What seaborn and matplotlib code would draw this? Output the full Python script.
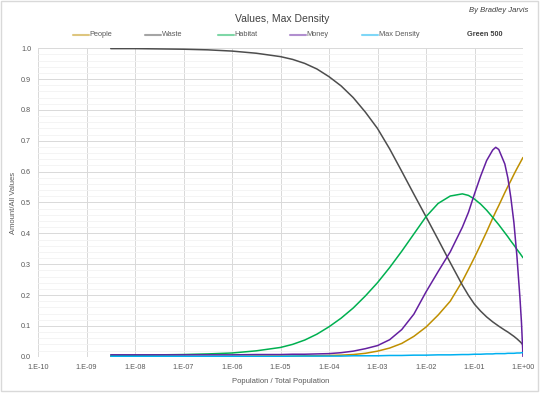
import numpy as np
import pandas as pd
import seaborn as sns
import matplotlib.pyplot as plt
from matplotlib.lines import Line2D
from matplotlib.patches import Rectangle
from matplotlib.ticker import MultipleLocator

# log10 of Population / Total Population where values were read
log_x = [-8.5, -8, -7.5, -7, -6.5, -6, -5.5, -5,
         -4.75, -4.5, -4.25, -4, -3.75, -3.5, -3.25, -3, -2.75, -2.5, -2.25, -2,
         -1.75, -1.5, -1.25, -1.125, -1, -0.875, -0.75, -0.625, -0.5625, -0.5, -0.375,
         -0.3125, -0.25, -0.1875, -0.125, -0.0625, -0.03125, 0]

people = [0.001, 0.001, 0.001, 0.001, 0.001, 0.001, 0.002, 0.002,
          0.002, 0.003, 0.003, 0.004, 0.005, 0.007, 0.011, 0.018, 0.028, 0.043, 0.066, 0.096,
          0.135, 0.180, 0.245, 0.283, 0.322, 0.363, 0.405, 0.449, 0.470, 0.490, 0.532,
          0.552, 0.571, 0.591, 0.610, 0.628, 0.637, 0.646]
waste = [0.999, 0.999, 0.998, 0.997, 0.995, 0.991, 0.984, 0.973,
         0.964, 0.951, 0.933, 0.908, 0.878, 0.840, 0.793, 0.740, 0.674, 0.601, 0.527, 0.454,
         0.380, 0.305, 0.232, 0.199, 0.170, 0.148, 0.129, 0.113, 0.106, 0.099, 0.086,
         0.080, 0.073, 0.066, 0.058, 0.049, 0.044, 0.038]
habitat = [0.005, 0.005, 0.006, 0.007, 0.009, 0.012, 0.019, 0.030,
           0.040, 0.054, 0.073, 0.097, 0.125, 0.158, 0.197, 0.240, 0.289, 0.342, 0.398, 0.454,
           0.497, 0.521, 0.528, 0.523, 0.511, 0.495, 0.475, 0.452, 0.440, 0.428, 0.402,
           0.389, 0.375, 0.362, 0.348, 0.335, 0.328, 0.321]
money = [0.006, 0.006, 0.006, 0.006, 0.006, 0.006, 0.007, 0.007,
         0.008, 0.008, 0.009, 0.010, 0.013, 0.018, 0.026, 0.036, 0.055, 0.088, 0.138, 0.210,
         0.276, 0.340, 0.420, 0.468, 0.528, 0.585, 0.636, 0.670, 0.679, 0.672, 0.625,
         0.580, 0.515, 0.435, 0.325, 0.190, 0.110, 0.0]
max_density = [0.001, 0.001, 0.001, 0.001, 0.001, 0.001, 0.001, 0.001,
               0.002, 0.002, 0.002, 0.002, 0.002, 0.003, 0.003, 0.003, 0.004, 0.004, 0.005, 0.005,
               0.006, 0.006, 0.007, 0.007, 0.008, 0.008, 0.009, 0.009, 0.010, 0.010, 0.010,
               0.011, 0.011, 0.011, 0.012, 0.012, 0.013, 0.013]

series_names = ["People", "Waste", "Habitat", "Money", "Max Density"]
colors = ["#BF8F00", "#4D4D4D", "#00B050", "#6420A0", "#00B0F0"]

xticks = [10.0 ** p for p in range(-10, 1)]
xtick_labels = ["1.E-10", "1.E-09", "1.E-08", "1.E-07", "1.E-06", "1.E-05",
                "1.E-04", "1.E-03", "1.E-02", "1.E-01", "1.E+00"]

sns.set_style("white")
plt.rcParams['font.family'] = ['Liberation Sans', 'DejaVu Sans']

x = 10.0 ** np.array(log_x)
frames = []
for name, vals in zip(series_names, [people, waste, habitat, money, max_density]):
    frames.append(pd.DataFrame({"x": x, "value": vals, "series": name}))
df = pd.concat(frames, ignore_index=True)

fig = plt.figure(figsize=(5.43, 3.94), dpi=100)
ax = fig.add_axes([38 / 543, 1 - 356.7 / 394, 485 / 543, 308.4 / 394])

sns.lineplot(data=df, x="x", y="value", hue="series", hue_order=series_names,
             palette=dict(zip(series_names, colors)), sort=False, linewidth=1.1,
             legend=False, ax=ax)

ax.set_xscale("log")
ax.set_xlim(1e-10, 1)
ax.set_ylim(0, 1)
ax.set_xticks(xticks)
ax.set_xticklabels(xtick_labels)
ax.xaxis.set_minor_locator(plt.NullLocator())
ax.yaxis.set_major_locator(MultipleLocator(0.1))
ax.yaxis.set_minor_locator(MultipleLocator(0.02))
ax.yaxis.set_major_formatter(plt.FuncFormatter(lambda v, p: f"{v:.1f}"))

ax.grid(True, which="major", color="#D9D9D9", linewidth=0.7)
ax.grid(True, which="minor", axis="y", color="#F2F2F2", linewidth=0.6)
ax.set_axisbelow(True)
for s in ax.spines.values():
    s.set_visible(False)
ax.tick_params(axis="both", which="both", length=0, labelsize=5.2, labelcolor="#595959")
ax.tick_params(axis="y", pad=5)
ax.tick_params(axis="x", pad=5)

ax.set_xlabel("Population / Total Population", fontsize=5.5, color="#595959")
ax.set_ylabel("Amount/All Values", fontsize=5.5, color="#595959")
ax.xaxis.set_label_coords(0.5, -0.069)
ax.yaxis.set_label_coords(-0.043, 0.5)

fig.text(282 / 543, 1 - 19 / 394, "Values, Max Density", fontsize=7.5, color="#404040",
         ha="center", va="center")
fig.text(528 / 543, 1 - 10 / 394, "By Bradley Jarvis", fontsize=5.5, style="italic",
         color="#404040", ha="right", va="center")

# legend row drawn by hand so entries sit in even slots
ly = 1 - 35 / 394
for i, (name, c) in enumerate(zip(series_names, colors)):
    x0 = (73 + 72.3 * i) / 543
    fig.add_artist(Line2D([x0, x0 + 16 / 543], [ly, ly], color=c, alpha=0.5, lw=1.5,
                          transform=fig.transFigure))
    fig.text(x0 + 16.5 / 543, ly, name, fontsize=5.3, color="#595959", va="center", ha="left")
fig.text(467 / 543, ly, "Green 500", fontsize=5.3, color="#404040", fontweight="bold",
         va="center", ha="left")

fig.add_artist(Rectangle((1 / 543, 3 / 394), 537 / 543, 390 / 394, fill=False,
                         edgecolor="#D9D9D9", lw=1.0, transform=fig.transFigure))

fig.savefig("out.png", dpi=100)
